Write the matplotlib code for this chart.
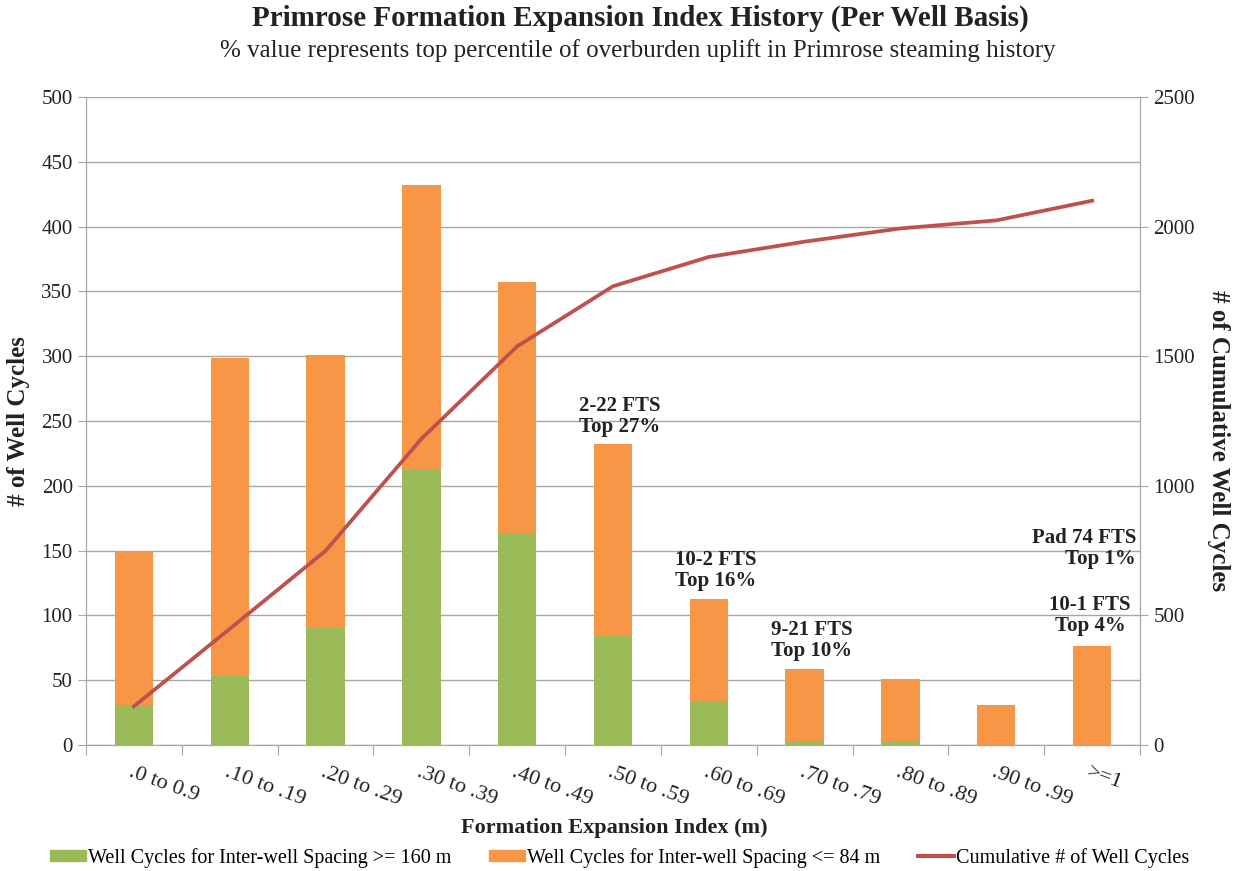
import matplotlib
matplotlib.use("Agg")
import matplotlib.pyplot as plt
import numpy as np
from matplotlib.patches import Patch
from matplotlib.lines import Line2D

plt.rcParams['font.family'] = ['Liberation Serif', 'DejaVu Serif']

# data
categories = ['.0 to 0.9', '.10 to .19', '.20 to .29', '.30 to .39', '.40 to .49',
              '.50 to .59', '.60 to .69', '.70 to .79', '.80 to .89', '.90 to .99', '>=1']
wide_spacing = [31, 53, 91, 212, 163, 85, 34, 2, 2, 0, 0]          # >= 160 m
narrow_spacing = [118, 246, 210, 220, 194, 147, 79, 57, 49, 31, 76]  # <= 84 m
cumulative = [149, 448, 749, 1181, 1538, 1770, 1883, 1942, 1993, 2024, 2100]

notes = [(5, 232, '2-22 FTS\nTop 27%'),
         (6, 113, '10-2 FTS\nTop 16%'),
         (7, 59, '9-21 FTS\nTop 10%')]

green = '#9BBB59'
orange = '#F79646'
red = '#C0504D'
grid_c = '#A6A6A6'
txt_c = '#222222'

fig = plt.figure(figsize=(12.37, 8.71), dpi=100)
ax = fig.add_axes([0.0695, 0.1447, 0.8521, 0.7439])
ax2 = ax.twinx()

x = np.arange(len(categories))
ax.bar(x, wide_spacing, width=0.4, color=green, zorder=3)
ax.bar(x, narrow_spacing, width=0.4, bottom=wide_spacing, color=orange, zorder=3)
ax2.plot(x, cumulative, color=red, lw=2.7, zorder=4)

ax.set_xlim(-0.5, len(categories) - 0.5)
ax.set_ylim(0, 500)
ax2.set_ylim(0, 2500)
ax.set_yticks(np.arange(0, 501, 50))
ax2.set_yticks(np.arange(0, 2501, 500))
ax.yaxis.grid(True, color=grid_c, lw=1, zorder=0)
ax.set_axisbelow(True)

for a in (ax, ax2):
    a.spines['top'].set_visible(False)
    for s in ('left', 'right', 'bottom'):
        a.spines[s].set_color(grid_c)
    a.tick_params(axis='y', colors=grid_c, labelcolor=txt_c, labelsize=15, length=6)
ax.tick_params(axis='x', colors=grid_c, length=7)

# ticks sit between categories, labels drawn by hand
ax.set_xticks(np.arange(-0.5, len(categories), 1.0))
ax.set_xticklabels([])
for i, lab in enumerate(categories):
    ax.text(i - 0.01, -14, lab, rotation=-20, rotation_mode='anchor',
            ha='left', va='top', fontsize=16, color=txt_c)

for i, top, txt in notes:
    ax.text(i + 0.07, top + 6, txt, ha='center', va='bottom', fontsize=15,
            fontweight='bold', color=txt_c, linespacing=1.05)
ax.text(10.46, 136, 'Pad 74 FTS\nTop 1%', ha='right', va='bottom', fontsize=15,
        fontweight='bold', color=txt_c, linespacing=1.05, multialignment='right')
ax.text(9.98, 84, '10-1 FTS\nTop 4%', ha='center', va='bottom', fontsize=15,
        fontweight='bold', color=txt_c, linespacing=1.05)

ax.set_ylabel('# of Well Cycles', fontsize=18, fontweight='bold', color=txt_c, labelpad=8)
ax2.set_ylabel('# of Cumulative Well Cycles', fontsize=18, fontweight='bold',
               color=txt_c, rotation=270, labelpad=26)
ax2.yaxis.set_label_coords(1.085, 0.47)

fig.text(0.518, 0.979, 'Primrose Formation Expansion Index History (Per Well Basis)',
         ha='center', va='center', fontsize=21, fontweight='bold', color=txt_c)
fig.text(0.516, 0.942, '% value represents top percentile of overburden uplift in Primrose steaming history',
         ha='center', va='center', fontsize=18, color=txt_c)
fig.text(0.497, 0.049, 'Formation Expansion Index (m)', ha='center', va='center',
         fontsize=16, fontweight='bold', color=txt_c)

handles = [Patch(color=green), Patch(color=orange), Line2D([0], [0], color=red, lw=3)]
labels = ['Well Cycles for Inter-well Spacing >= 160 m',
          'Well Cycles for Inter-well Spacing <= 84 m',
          'Cumulative # of Well Cycles']
fig.legend(handles, labels, loc='center', bbox_to_anchor=(0.501, 0.015), ncol=3,
           frameon=False, fontsize=14.5, columnspacing=1.85, handlelength=1.8,
           handletextpad=0.1, handleheight=0.5)

fig.savefig('out.png', dpi=100)
